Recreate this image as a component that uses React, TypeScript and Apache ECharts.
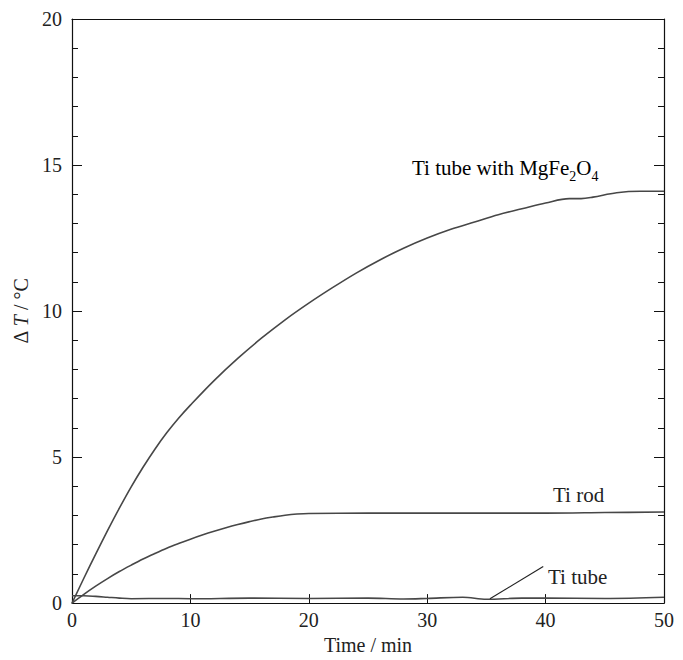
import React, { useEffect, useRef } from "react";
import * as echarts from "echarts";

const mgTime = [0, 1, 2, 3, 4, 5, 6, 7, 8, 9, 10, 12, 14, 16, 18, 20, 22, 24, 26, 28, 30, 32, 34, 36, 38, 40, 42, 43, 44, 46, 48, 50];
const mgValues = [0, 0.85, 1.68, 2.48, 3.25, 3.98, 4.65, 5.27, 5.83, 6.33, 6.78, 7.62, 8.38, 9.07, 9.7, 10.27, 10.8, 11.3, 11.75, 12.15, 12.5, 12.8, 13.05, 13.3, 13.5, 13.7, 13.85, 13.85, 13.9, 14.05, 14.1, 14.1];

const rodTime = [0, 1, 2, 3, 4, 5, 6, 7, 8, 9, 10, 11, 12, 13, 14, 15, 16, 17, 18, 19, 20, 25, 30, 35, 40, 45, 50];
const rodValues = [0, 0.3, 0.58, 0.84, 1.08, 1.3, 1.51, 1.7, 1.88, 2.04, 2.19, 2.33, 2.46, 2.58, 2.69, 2.79, 2.88, 2.95, 3.01, 3.05, 3.07, 3.08, 3.08, 3.08, 3.08, 3.1, 3.12];

const tubeTime = [0, 1, 2, 3, 4, 5, 8, 10, 15, 20, 25, 28, 30, 33, 35, 38, 40, 45, 50];
const tubeValues = [0.25, 0.25, 0.23, 0.2, 0.17, 0.15, 0.16, 0.15, 0.17, 0.16, 0.17, 0.14, 0.16, 0.2, 0.13, 0.17, 0.17, 0.16, 0.2];

const tubeLeader = [[35.3, 0.15], [39.8, 1.25]];

const xTicks = [0, 10, 20, 30, 40, 50];
const yTicks = [0, 5, 10, 15, 20];

const FONT = "Liberation Serif";
const LINE = "#474747";

function zip(xs: number[], ys: number[]) {
  return xs.map((x, i) => [x, ys[i]]);
}

export default function App() {
  const ref = useRef<HTMLDivElement>(null);
  useEffect(() => {
    if (!ref.current) return;
    const chart = echarts.init(ref.current, undefined, { renderer: "svg" });
    const axisLabel = { fontFamily: FONT, fontSize: 20, color: "#222" };
    const lineBase = {
      type: "line",
      smooth: 0.35,
      showSymbol: false,
      lineStyle: { color: LINE, width: 1.6 },
    };
    chart.setOption({
      animation: false,
      backgroundColor: "#fff",
      grid: { left: 72, right: 19, top: 19, bottom: 49, containLabel: false },
      xAxis: [
        {
          type: "value",
          min: xTicks[0],
          max: xTicks[xTicks.length - 1],
          interval: 10,
          axisLine: { show: true, onZero: false, lineStyle: { color: "#111", width: 1.2 } },
          axisTick: { show: true, inside: true, length: 9, lineStyle: { color: "#111", width: 1 } },
          axisLabel: { ...axisLabel, margin: 7 },
          splitLine: { show: false },
          name: "Time / min",
          nameLocation: "middle",
          nameGap: 28,
          nameTextStyle: { fontFamily: FONT, fontSize: 20, color: "#222" },
        },
        {
          type: "value",
          position: "top",
          min: xTicks[0],
          max: xTicks[xTicks.length - 1],
          interval: 10,
          axisLine: { show: true, onZero: false, lineStyle: { color: "#111", width: 1.2 } },
          axisTick: { show: false },
          axisLabel: { show: false },
          splitLine: { show: false },
        },
      ],
      yAxis: [
        {
          type: "value",
          min: yTicks[0],
          max: yTicks[yTicks.length - 1],
          interval: 5,
          axisLine: { show: true, onZero: false, lineStyle: { color: "#111", width: 1.2 } },
          axisTick: { show: true, inside: true, length: 10, lineStyle: { color: "#111", width: 1 } },
          minorTick: { show: true, splitNumber: 5, length: 6, lineStyle: { color: "#111", width: 1 } },
          axisLabel: { ...axisLabel, margin: 10 },
          splitLine: { show: false },
          minorSplitLine: { show: false },
          name: "{a|Δ }{i|T}{a| / °C}",
          nameLocation: "middle",
          nameGap: 39,
          nameRotate: 90,
          nameTextStyle: {
            rich: {
              a: { fontFamily: FONT, fontSize: 20, color: "#222" },
              i: { fontFamily: FONT, fontSize: 20, fontStyle: "italic", color: "#222" },
            },
          },
        },
        {
          type: "value",
          position: "right",
          min: yTicks[0],
          max: yTicks[yTicks.length - 1],
          interval: 5,
          axisLine: { show: true, onZero: false, lineStyle: { color: "#111", width: 1.2 } },
          axisTick: { show: true, inside: true, length: 10, lineStyle: { color: "#111", width: 1 } },
          minorTick: { show: true, splitNumber: 5, length: 6, lineStyle: { color: "#111", width: 1 } },
          axisLabel: { show: false },
          splitLine: { show: false },
        },
      ],
      series: [
        { ...lineBase, name: "Ti tube with MgFe2O4", data: zip(mgTime, mgValues) },
        { ...lineBase, name: "Ti rod", data: zip(rodTime, rodValues) },
        {
          ...lineBase,
          name: "Ti tube",
          data: zip(tubeTime, tubeValues),
          markLine: {
            silent: true,
            symbol: ["none", "none"],
            label: { show: false },
            lineStyle: { color: "#222", width: 1.2, type: "solid" },
            data: [[{ coord: tubeLeader[0] }, { coord: tubeLeader[1] }]],
          },
        },
      ],
      graphic: [
        {
          type: "text",
          left: 412,
          top: 157,
          style: {
            text: "{a|Ti tube with MgFe}{s|2}{a|O}{s|4}",
            rich: {
              a: { fontFamily: FONT, fontSize: 21, color: "#222", lineHeight: 26, verticalAlign: "top" },
              s: { fontFamily: FONT, fontSize: 14, color: "#222", lineHeight: 14, verticalAlign: "bottom" },
            },
          },
        },
        {
          type: "text",
          left: 553,
          top: 484,
          style: { text: "Ti rod", fontFamily: FONT, fontSize: 21, fill: "#222" },
        },
        {
          type: "text",
          left: 548,
          top: 566,
          style: { text: "Ti tube", fontFamily: FONT, fontSize: 21, fill: "#222" },
        },
      ],
    });
    return () => chart.dispose();
  }, []);
  return (
    <div
      ref={ref}
      style={{ position: "fixed", left: 0, top: 0, width: 683, height: 660, background: "#fff" }}
    />
  );
}
